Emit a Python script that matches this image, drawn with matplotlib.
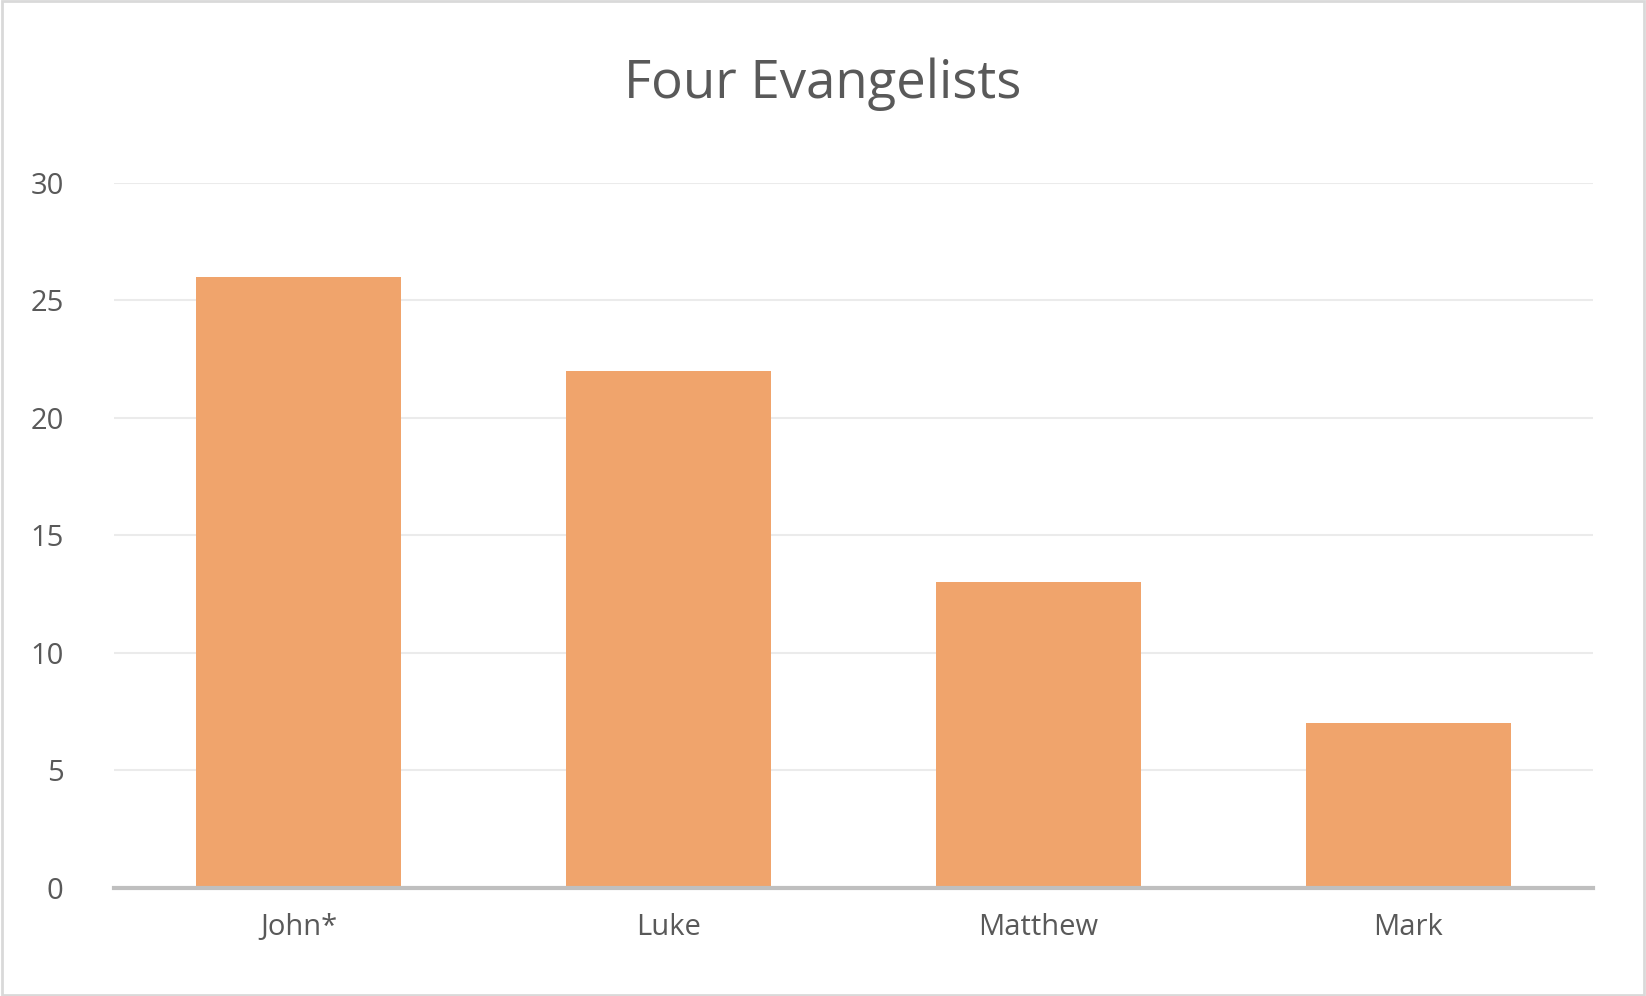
import matplotlib
matplotlib.use("Agg")
import matplotlib.pyplot as plt

categories = ["John*", "Luke", "Matthew", "Mark"]
values = [26, 22, 13, 7]
yticks = [0, 5, 10, 15, 20, 25, 30]

plt.rcParams['font.family'] = ['Open Sans', 'DejaVu Sans']
fig = plt.figure(figsize=(16.46, 9.96), dpi=100)
ax = fig.add_axes([0.069, 0.1085, 0.899, 0.708])
ax.bar(range(len(categories)), values, width=0.553, color='#F0A46C', zorder=3)
ax.set_xlim(-0.5, 3.5)
ax.set_ylim(0, 30)
ax.set_yticks(yticks)
ax.set_xticks(range(len(categories)))
ax.set_xticklabels(categories)
ax.tick_params(length=0, labelsize=21, colors='#595959', pad=18)
ax.tick_params(axis='y', pad=36)
ax.grid(axis='y', color='#EBEBEB', linewidth=1.5, zorder=0)
for s in ['top', 'right', 'left']:
    ax.spines[s].set_visible(False)
ax.spines['bottom'].set_color('#BFBFBF')
ax.spines['bottom'].set_linewidth(3)
ax.spines['bottom'].set_zorder(4)
fig.text(0.5, 0.915, "Four Evangelists", ha='center', va='center', fontsize=38, color='#595959')
fig.patches.append(matplotlib.patches.Rectangle((0.001, 0.001), 0.998, 0.998, transform=fig.transFigure,
                                                fill=False, edgecolor='#D9D9D9', linewidth=2))
fig.savefig("out.png", dpi=100)
